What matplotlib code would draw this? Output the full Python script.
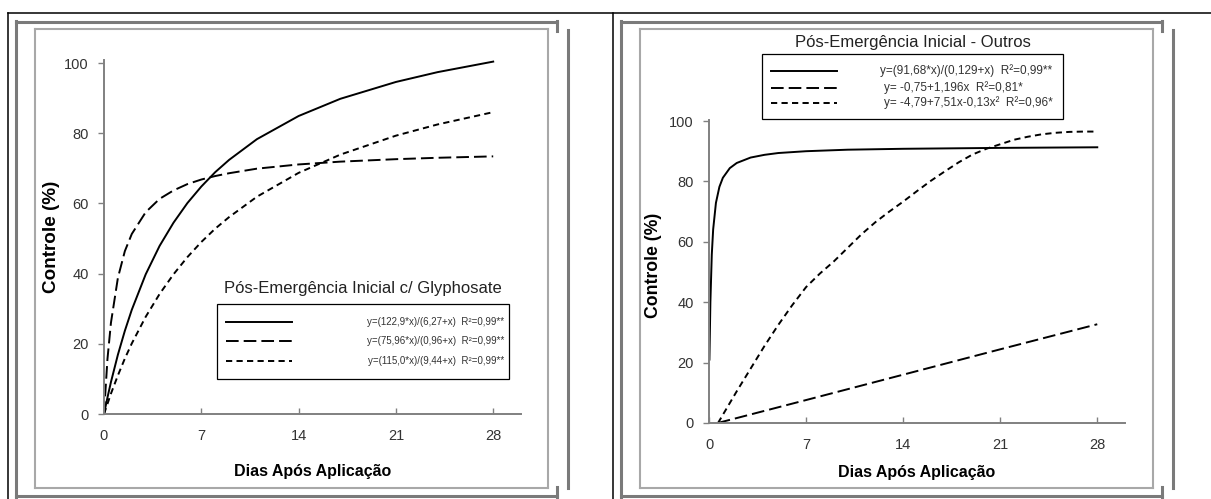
import matplotlib
matplotlib.use('Agg')
import matplotlib.pyplot as plt
from matplotlib.lines import Line2D

plt.rcParams['font.family'] = ['Liberation Sans', 'DejaVu Sans']

W, H = 1211, 499

# ---- left panel: Pós-Emergência Inicial c/ Glyphosate
dias_esq = [0, 0.25, 0.5, 1, 1.5, 2, 3, 4, 5, 6, 7, 8, 9, 11, 14, 17, 21, 24, 28]
esq_solida = [0, 4.7, 9.1, 16.9, 23.7, 29.7, 39.8, 47.9, 54.5, 60.1, 64.8,
              68.9, 72.4, 78.3, 84.9, 89.8, 94.6, 97.4, 100.4]
esq_tracejada = [0, 15.7, 26.0, 38.8, 46.4, 51.3, 57.5, 61.3, 63.7, 65.5, 66.8,
                 67.8, 68.6, 69.9, 71.1, 71.9, 72.6, 73.0, 73.4]
esq_pontilhada = [0, 2.9, 5.8, 11.0, 15.8, 20.1, 27.7, 34.2, 39.8, 44.7, 49.0,
                  52.8, 56.1, 61.9, 68.7, 73.9, 79.3, 82.5, 86.0]
leg_esq = ['y=(122,9*x)/(6,27+x)  R²=0,99**',
           'y=(75,96*x)/(0,96+x)  R²=0,99**',
           'y=(115,0*x)/(9,44+x)  R²=0,99**']
titulo_esq = 'Pós-Emergência Inicial c/ Glyphosate'

# ---- right panel: Pós-Emergência Inicial - Outros
dias_dir_solida = [0.03, 0.1, 0.2, 0.3, 0.5, 0.75, 1, 1.5, 2, 3, 4, 5, 7, 10, 14, 21, 28]
dir_solida = [21, 40, 55.7, 64.1, 72.9, 78.2, 81.2, 84.4, 86.1, 87.9, 88.8, 89.4,
              90.0, 90.5, 90.8, 91.1, 91.3]
dias_dir_linear = [0.63, 7, 14, 21, 28]
dir_linear = [0, 7.6, 16.0, 24.4, 32.7]
dias_dir_quad = [0.65, 2, 3, 4, 5, 6, 7, 8, 9, 10, 11, 12, 13, 14, 15, 16, 17, 18,
                 19, 20, 21, 22, 23, 24, 25, 26, 27, 28]
dir_quad = [0, 10.5, 18, 25.5, 32.5, 39, 45, 49.5, 53.5, 58, 62.5, 66.5, 70, 73.3,
            76.8, 80.2, 83.3, 86.3, 88.9, 90.8, 92.3, 93.8, 94.8, 95.6, 96.1, 96.4,
            96.5, 96.5]
leg_dir = ['y=(91,68*x)/(0,129+x)  R²=0,99**',
           'y= -0,75+1,196x  R²=0,81*',
           'y= -4,79+7,51x-0,13x²  R²=0,96*']
titulo_dir = 'Pós-Emergência Inicial - Outros'

xticks = [0, 7, 14, 21, 28]
yticks = [0, 20, 40, 60, 80, 100]

estilos = [dict(ls='-'), dict(ls=(0, (6.5, 2.6))), dict(ls=(0, (3.2, 2.2)))]
LW = 1.4

fig = plt.figure(figsize=(W / 100, H / 100), dpi=100)


def linha(x0, y0, x1, y1, color='black', lw=1.0, **kw):
    fig.add_artist(Line2D([x0 / W, x1 / W], [1 - y0 / H, 1 - y1 / H],
                          transform=fig.transFigure, color=color, lw=lw, **kw))


def texto(x, y, s, **kw):
    fig.text(x / W, 1 - y / H, s, **kw)


# table borders
linha(8, 13, W, 13, lw=1.1)
linha(8, 13, 8, H, lw=1.1)
linha(613, 13, 613, H, lw=1.1)

for dx in (0, 605):
    # outer shadow frame
    linha(16 + dx, 22, 557 + dx, 22, '#7a7a7a', 2.2)
    linha(16 + dx, 21, 16 + dx, 497, '#7a7a7a', 2.2)
    linha(16 + dx, 496, 557 + dx, 496, '#7a7a7a', 2.2)
    linha(557 + dx, 21, 557 + dx, 31, '#7a7a7a', 2.2)
    linha(557 + dx, 487, 557 + dx, 497, '#7a7a7a', 2.2)
    # inner frame
    linha(35 + dx, 29, 548 + dx, 29, '#a8a8a8', 1.5)
    linha(35 + dx, 488, 548 + dx, 488, '#a8a8a8', 1.5)
    linha(35 + dx, 29, 35 + dx, 488, '#a8a8a8', 1.5)
    linha(548 + dx, 29, 548 + dx, 488, '#a8a8a8', 1.5)
    # stray vertical line
    linha(568 + dx, 30, 568 + dx, 488, '#7a7a7a', 2.2)


def preparar(ax, ylim_top, ylab_size, ylab_xy, xlab_pad):
    ax.set_xlim(0, 30)
    ax.set_ylim(0, ylim_top)
    for s in ('top', 'right'):
        ax.spines[s].set_visible(False)
    for s in ('left', 'bottom'):
        ax.spines[s].set_color('#808080')
        ax.spines[s].set_linewidth(1.4)
    ax.set_xticks(xticks)
    ax.set_yticks(yticks)
    ax.tick_params(axis='x', direction='in', length=4, width=1, color='#808080',
                   pad=11, labelsize=10.5, labelcolor='#333333')
    ax.tick_params(axis='y', direction='out', length=4, width=1, color='#808080',
                   pad=7, labelsize=10.5, labelcolor='#333333')
    ax.set_xlabel('Dias Após Aplicação', fontsize=11.5, fontweight='bold',
                  labelpad=xlab_pad)
    ax.set_ylabel('Controle (%)', fontsize=ylab_size, fontweight='bold')
    ax.yaxis.set_label_coords(*ylab_xy)
    ax.patch.set_alpha(0)


# left axes
ax1 = fig.add_axes([104 / W, (H - 414) / H, 417 / W, 354.5 / H])
preparar(ax1, 101, 13.6, (-0.105, 0.5), 15)
ax1.plot(dias_esq, esq_solida, color='black', lw=LW, **estilos[0])
ax1.plot(dias_esq, esq_tracejada, color='black', lw=LW, **estilos[1])
ax1.plot(dias_esq, esq_pontilhada, color='black', lw=LW, **estilos[2])

# right axes
ax2 = fig.add_axes([709 / W, (H - 423) / H, 416 / W, 303.5 / H])
preparar(ax2, 100.5, 12.7, (-0.113, 0.52), 9)
ax2.plot(dias_dir_solida, dir_solida, color='black', lw=LW, **estilos[0])
ax2.plot(dias_dir_linear, dir_linear, color='black', lw=LW, **estilos[1])
ax2.plot(dias_dir_quad, dir_quad, color='black', lw=LW, **estilos[2])

# left legend
texto(363, 289, titulo_esq, fontsize=12, ha='center', va='center', color='#222222')
fig.add_artist(plt.Rectangle((217 / W, 1 - 379 / H), 292 / W, 75 / H,
                             transform=fig.transFigure, fill=False, ec='black', lw=0.9))
for i, (rot, yy) in enumerate(zip(leg_esq, (322, 341, 361))):
    linha(226, yy, 292, yy, 'black', LW, **estilos[i])
    texto(504, yy, rot, fontsize=7, ha='right', va='center', color='#333333')

# right legend
texto(913, 42, titulo_dir, fontsize=12, ha='center', va='center', color='#222222')
fig.add_artist(plt.Rectangle((762 / W, 1 - 119 / H), 301 / W, 65 / H,
                             transform=fig.transFigure, fill=False, ec='black', lw=0.9))
for i, (rot, yy) in enumerate(zip(leg_dir, (71, 88, 103))):
    linha(771, yy, 837, yy, 'black', LW, **estilos[i])
    texto(880 if i == 0 else 884, yy, rot, fontsize=8.5, ha='left', va='center',
          color='#333333')

fig.savefig('out.png', dpi=100)
